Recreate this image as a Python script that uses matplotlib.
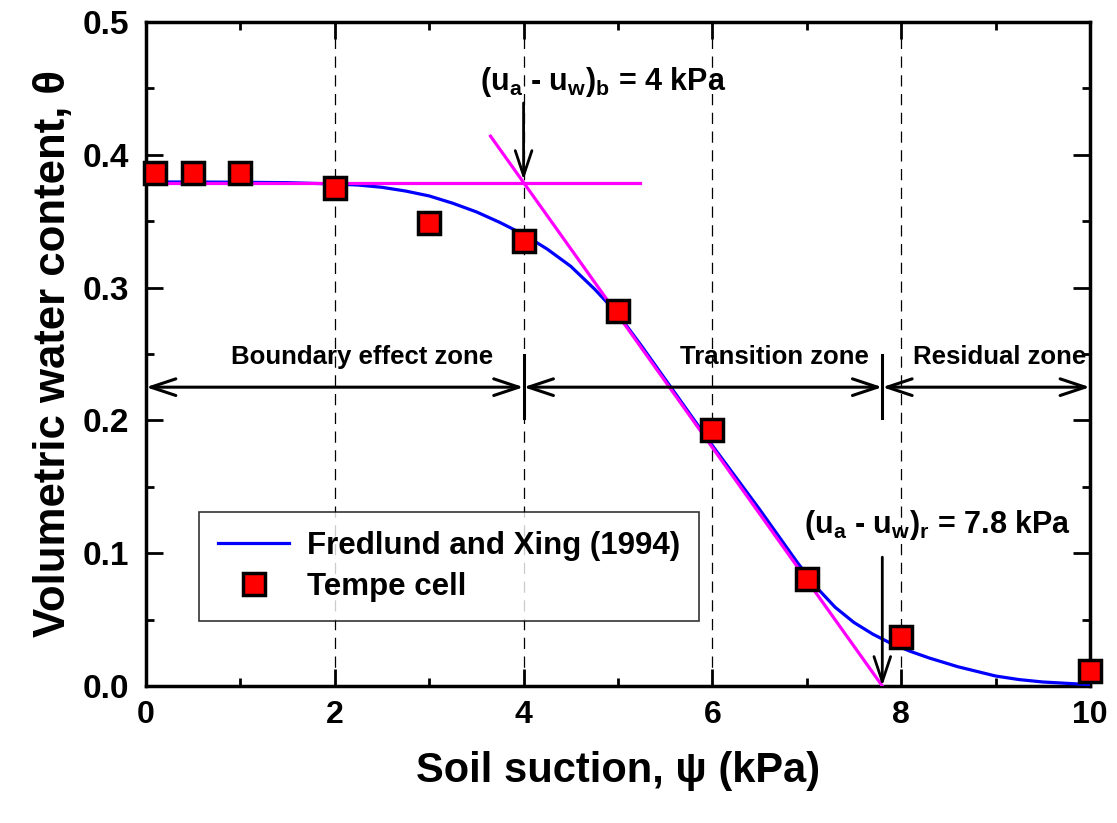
import matplotlib
matplotlib.use("Agg")
import matplotlib.pyplot as plt
from matplotlib.ticker import MultipleLocator

plt.rcParams['font.family'] = ['Liberation Sans', 'DejaVu Sans']
plt.rcParams['font.weight'] = 'bold'
plt.rcParams['axes.labelweight'] = 'bold'
plt.rcParams['mathtext.fontset'] = 'custom'
plt.rcParams['mathtext.rm'] = 'Liberation Sans:bold'
plt.rcParams['mathtext.bf'] = 'Liberation Sans:bold'
plt.rcParams['mathtext.it'] = 'Liberation Sans:bold'
plt.rcParams['mathtext.default'] = 'bf'

# Tempe cell measurements
suction = [0.1, 0.5, 1.0, 2.0, 3.0, 4.0, 5.0, 6.0, 7.0, 8.0, 10.0]
theta = [0.386, 0.386, 0.386, 0.375, 0.349, 0.335, 0.282, 0.193, 0.0806, 0.037, 0.011]

# Fredlund and Xing (1994) fitted curve
fit_x = [0, 0.5, 1, 1.5, 2, 2.25, 2.5, 2.75, 3, 3.25, 3.5, 3.75, 4, 4.25, 4.5, 4.75,
         5, 5.25, 5.5, 5.75, 6, 6.25, 6.5, 6.75, 6.9, 7.1, 7.3, 7.5, 7.7, 7.9, 8.1,
         8.3, 8.6, 9, 9.25, 9.5, 10]
fit_y = [0.3795, 0.3795, 0.3793, 0.379, 0.378, 0.3772, 0.3755, 0.3727, 0.369, 0.3635,
         0.357, 0.349, 0.340, 0.329, 0.316, 0.299, 0.280, 0.256, 0.231, 0.206, 0.181,
         0.157, 0.133, 0.108, 0.093, 0.0745, 0.0593, 0.0478, 0.039, 0.0318, 0.026,
         0.021, 0.0145, 0.0075, 0.0048, 0.003, 0.001]

# construction lines
sat_x = [0, 5.23]
sat_y = [0.379, 0.379]
tan_x = [3.65, 7.8]
tan_y = [0.414, 0.0]

air_entry = 4.0
residual = 7.8
zone_y = 0.225

fig = plt.figure(figsize=(11.17, 8.23), dpi=100)
ax = fig.add_axes([0.1307, 0.1665, 0.8451, 0.8068])

for gx in [2, 4, 6, 8]:
    ax.axvline(gx, color='black', lw=0.9, ls=(0, (9, 6)), zorder=1)

ax.plot(fit_x, fit_y, color='#0000ff', lw=2.3, zorder=3, label='Fredlund and Xing (1994)')
ax.plot(sat_x, sat_y, color='#ff00ff', lw=2.3, zorder=4)
ax.plot(tan_x, tan_y, color='#ff00ff', lw=2.3, zorder=4)
ax.plot(suction, theta, ls='none', marker='s', ms=15.5, mfc='#ff0000', mec='black',
        mew=2.5, zorder=5, label='Tempe cell', clip_on=False)

arrow_kw = dict(arrowstyle='->,head_length=0.9,head_width=0.3', color='black', lw=2.0,
                shrinkA=0, shrinkB=0, mutation_scale=20)
# zone arrows
for x0, x1 in [(0, air_entry), (air_entry, residual), (residual, 10)]:
    ax.annotate('', xy=(x1, zone_y), xytext=(x0, zone_y),
                arrowprops=dict(arrowstyle='<->,head_length=0.9,head_width=0.3',
                                color='black', lw=2.2, shrinkA=0, shrinkB=0,
                                mutation_scale=20), zorder=6)
for xv in [air_entry, residual]:
    ax.plot([xv, xv], [0.202, 0.249], color='black', lw=2.2, zorder=6)

ax.text(2.29, 0.248, 'Boundary effect zone', ha='center', va='center', fontsize=18.5)
ax.text(6.66, 0.248, 'Transition zone', ha='center', va='center', fontsize=18.5)
ax.text(9.04, 0.248, 'Residual zone', ha='center', va='center', fontsize=18.5)

# down arrows
ax.annotate('', xy=(air_entry, 0.381), xytext=(air_entry, 0.439), arrowprops=arrow_kw, zorder=6)
ax.annotate('', xy=(residual, 0.0), xytext=(residual, 0.097), arrowprops=arrow_kw, zorder=6)

ax.text(4.84, 0.455, r'(u$_a$ - u$_w$)$_b$ = 4 kPa', ha='center', va='center', fontsize=22)
ax.text(8.38, 0.121, r'(u$_a$ - u$_w$)$_r$ = 7.8 kPa', ha='center', va='center', fontsize=22)

ax.set_xlim(0, 10)
ax.set_ylim(0, 0.5)
ax.xaxis.set_major_locator(MultipleLocator(2))
ax.xaxis.set_minor_locator(MultipleLocator(1))
ax.yaxis.set_major_locator(MultipleLocator(0.1))
ax.yaxis.set_minor_locator(MultipleLocator(0.05))
ax.xaxis.set_major_formatter(matplotlib.ticker.FormatStrFormatter('%d'))
ax.yaxis.set_major_formatter(matplotlib.ticker.FormatStrFormatter('%.1f'))
ax.tick_params(which='both', direction='in', top=True, right=True, width=2)
ax.tick_params(which='major', length=12)
ax.tick_params(which='minor', length=6)
ax.tick_params(axis='x', which='major', labelsize=23, pad=10)
ax.tick_params(axis='y', which='major', labelsize=24, pad=12)
for s in ax.spines.values():
    s.set_linewidth(2.5)

ax.set_xlabel('Soil suction, ψ (kPa)', fontsize=30, labelpad=15)
ax.set_ylabel('Volumetric water content, θ', fontsize=31.5, labelpad=6)

leg = ax.legend(loc='lower left', bbox_to_anchor=(0.056, 0.098), fontsize=22.5,
                frameon=True, fancybox=False, edgecolor='black', handlelength=2.3,
                borderpad=0.6, labelspacing=0.35, handletextpad=0.55, borderaxespad=0)
leg.get_frame().set_linewidth(1.2)

fig.savefig('out.png', dpi=100)
